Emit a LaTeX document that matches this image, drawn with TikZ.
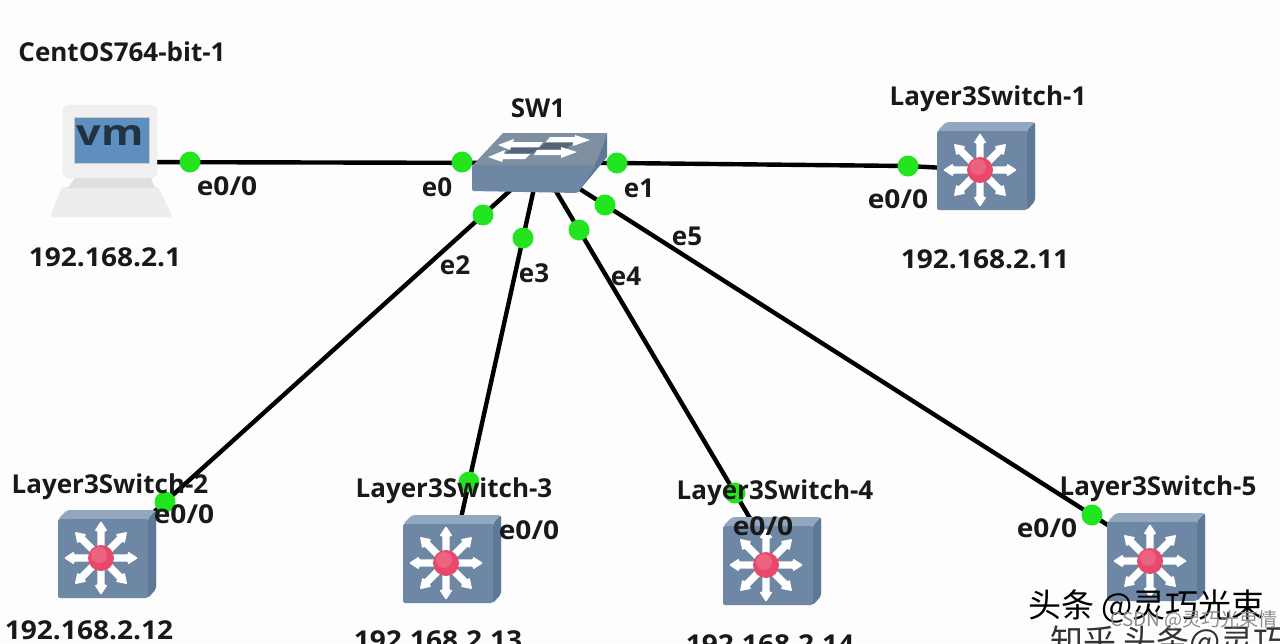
\documentclass[tikz,border=0pt]{standalone}
\usepackage{fontspec}
\setmainfont{Open Sans}
\newfontfamily\cjk{Noto Sans CJK SC}
\usetikzlibrary{calc}
\definecolor{bg}{HTML}{FDFDFD}
\definecolor{steel}{HTML}{6D87A4}
\definecolor{steeltop}{HTML}{93A8BE}
\definecolor{steeldark}{HTML}{5E7997}
\definecolor{led}{HTML}{22E51F}
\definecolor{vmscreen}{HTML}{5F8FBE}
\definecolor{vmgrey}{HTML}{EDEDED}
\definecolor{core}{HTML}{E8486C}
\tikzset{
  x=1pt,y=-1pt,
  lbl/.style={font=\fontsize{26}{28}\selectfont\bfseries,text=black!90,inner sep=0pt},
  lblw/.style={lbl,xscale=1.08},
  dot/.style={circle,fill=led,minimum size=21pt,inner sep=0pt},
  link/.style={line width=4.4pt,black},
  device/.style={inner sep=0pt,minimum width=90pt,minimum height=80pt},
  wm/.style={font=\cjk\fontsize{33}{34}\selectfont,inner sep=0pt},
  l3switch/.pic={
    \fill[steeltop,rounded corners=3pt] (-43,-39)--(-34,-48)--(55,-48)--(55,31)--(47,40)--cycle;
    \fill[steeldark,rounded corners=2pt] (47,-39)--(55,-48)--(55,31)--(47,40)--cycle;
    \fill[steel,rounded corners=2pt] (-43,-39) rectangle (47,40);
    \foreach \a in {0,45,...,315}{
      \begin{scope}[rotate=\a]
        \fill[white,rounded corners=1pt] (8,-3.6)--(27,-3.6)--(27,-6.5)--(37,0)--(27,6.5)--(27,3.6)--(8,3.6)--cycle;
      \end{scope}}
    \fill[core] (0,0) circle (13);
    \fill[white,opacity=.15] (-2,-3) circle (8);
  }
}
\begin{document}
\begin{tikzpicture}
\useasboundingbox (0,0) rectangle (1280,643);
\clip (0,0) rectangle (1280,643);
\fill[bg] (0,0) rectangle (1280,643);

% device anchors
\node[device] (vm) at (112,162) {};
\node[device,minimum width=130pt,minimum height=60pt] (sw) at (535,163) {};
\node[device] (s1) at (982,170) {};
\node[device] (s2) at (103,558) {};
\node[device] (s3) at (448,563) {};
\node[device] (s4) at (768,565) {};
\node[device] (s5) at (1152,561) {};

% port coordinates
\coordinate (p0) at (190,162);
\coordinate (q0) at (462,162);
\coordinate (q1) at (617,163);
\coordinate (p1) at (908,166);
\coordinate (q2) at (483,215);
\coordinate (p2) at (165,502);
\coordinate (q3) at (523,238);
\coordinate (p3) at (469,482);
\coordinate (q4) at (579,230);
\coordinate (p4) at (735,493);
\coordinate (q5) at (605,205);
\coordinate (p5) at (1092,515);

% connectors
\draw[link] (vm.center) -- (sw.center);
\draw[link] (sw.center) -- (q1) -- (p1) -- (s1.center);
\draw[link] ($(q2)!-40pt!(p2)$) -- ($(p2)!-40pt!(q2)$);
\draw[link] ($(q3)!-50pt!(p3)$) -- ($(p3)!-40pt!(q3)$);
\draw[link] ($(q4)!-50pt!(p4)$) -- ($(p4)!-35pt!(q4)$);
\draw[link] ($(q5)!-35pt!(p5)$) -- ($(p5)!-30pt!(q5)$);

% VM icon
\fill[vmgrey,rounded corners=3pt] (62,187)--(158,187)--(173,217)--(50,217)--cycle;
\fill[vmgrey!94!black] (76,176)--(150,176)--(155,188)--(68,188)--cycle;
\fill[white!94!black,rounded corners=7pt,draw=black!10] (63,105) rectangle (157,178);
\fill[vmscreen,draw=black!20] (74,117) rectangle (149,163);
\node[inner sep=0pt,text=black!65!vmscreen,font=\fontsize{36}{36}\selectfont\bfseries,xscale=1.2] (vmtxt) at (110,135) {vm};

% switch icon
\fill[steeltop!85!black] (473,165)--(503,133)--(607,133)--(595,166)--cycle;
\fill[steeldark] (595,166)--(607,133)--(607,157)--(578,192)--cycle;
\fill[steel,rounded corners=2pt] (472,165) -- (596,165) -- (578,193) -- (472,191) -- cycle;
\fill[steeldark!60!black,opacity=.6] (511,148)--(539,148)--(533,153)--(506,153)--cycle;
\fill[steeldark!60!black,opacity=.6] (545,143)--(573,143)--(566,149)--(538,149)--cycle;
\fill[white] (488,157)--(505,150)--(504,154)--(530,154)--(525,159)--(503,159)--(502,162)--cycle;
\fill[white] (498,145)--(514,139)--(513,142)--(543,142)--(539,147)--(511,147)--(510,150)--cycle;
\fill[white] (590,140)--(575,135)--(575,137)--(550,137)--(546,142)--(573,142)--(573,146)--cycle;
\fill[white] (577,152)--(561,147)--(561,150)--(537,150)--(534,155)--(561,155)--(561,158)--cycle;

% L3 switch icons
\pic at (980,170) {l3switch};
\pic at (101,558) {l3switch};
\pic at (446,563) {l3switch};
\pic at (766,565) {l3switch};
\pic at (1150,561) {l3switch};

% port dots
\foreach \c in {p0,q0,q1,p1,q2,p2,q3,p3,q4,p4,q5,p5}
  \node[dot] (dot\c) at (\c) {};

% labels
\node[lbl] (t1) at (122,52) {CentOS764-bit-1};
\node[lblw] (t2) at (105,257) {192.168.2.1};
\node[lbl] (t3) at (538,108) {SW1};
\node[lbl] (t4) at (988,99) {Layer3Switch-1};
\node[lblw] (t5) at (985,259) {192.168.2.11};
\node[lblw] (e1) at (227,186) {e0/0};
\node[lbl] (e2) at (437,187) {e0};
\node[lbl] (e3) at (639,188) {e1};
\node[lblw] (e4) at (898,199) {e0/0};
\node[lbl] (e5) at (455,265) {e2};
\node[lbl] (e6) at (534,273) {e3};
\node[lbl] (e7) at (626,276) {e4};
\node[lbl] (e8) at (687,236) {e5};
\node[lbl] (t6) at (110,487) {Layer3Switch-2};
\node[lblw] (e9) at (184,514) {e0/0};
\node[lblw] (t7) at (89,630) {192.168.2.12};
\node[lbl] (t8) at (454,491) {Layer3Switch-3};
\node[lblw] (e10) at (529,530) {e0/0};
\node[lblw] (t9) at (438,640) {192.168.2.13};
\node[lbl] (t10) at (775,493) {Layer3Switch-4};
\node[lblw] (e11) at (763,526) {e0/0};
\node[lblw] (t11) at (770,644) {192.168.2.14};
\node[lbl] (t12) at (1158,489) {Layer3Switch-5};
\node[lblw] (e12) at (1047,528) {e0/0};

% watermarks
\node[wm,anchor=west,text=black] (w1) at (1028,606) {头条 @灵巧光束};
\node[wm,anchor=west,text=black!80] (w2) at (1050,642) {知乎 头条@灵巧};
\node[anchor=east,inner sep=0pt,text=black!45,font=\cjk\fontsize{19}{20}\selectfont] (w3) at (1278,620) {CSDN @灵巧光束情};
\end{tikzpicture}
\end{document}
